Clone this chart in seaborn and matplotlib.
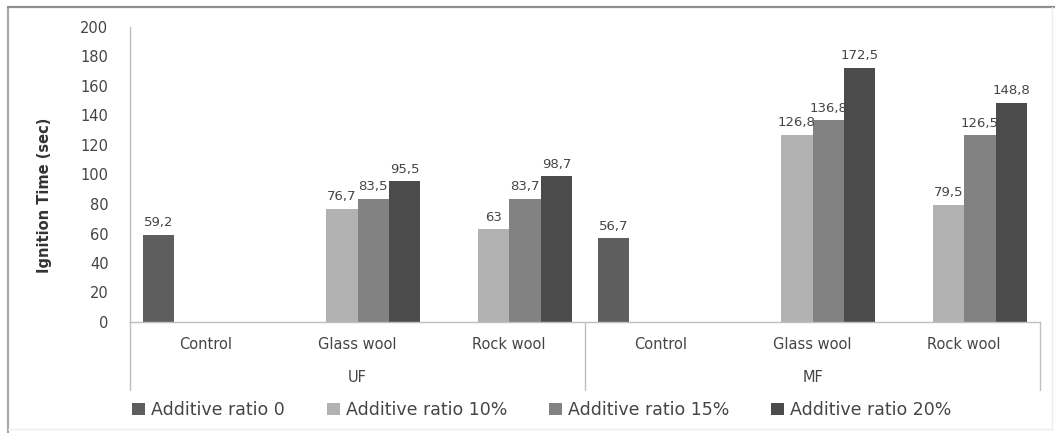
import matplotlib
matplotlib.use("Agg")
import matplotlib.pyplot as plt
import pandas as pd
import seaborn as sns
from matplotlib.lines import Line2D
from matplotlib.transforms import blended_transform_factory

# Ignition time (sec) by resin, filler and additive ratio
resins = ["UF", "MF"]
fillers = ["Control", "Glass wool", "Rock wool"]
ratios = ["Additive ratio 0", "Additive ratio 10%",
          "Additive ratio 15%", "Additive ratio 20%"]

uf_control = [59.2]
uf_glass = [76.7, 83.5, 95.5]
uf_rock = [63.0, 83.7, 98.7]
mf_control = [56.7]
mf_glass = [126.8, 136.8, 172.5]
mf_rock = [79.5, 126.5, 148.8]

bar_colors = ["#5e5e5e", "#b2b2b2", "#828282", "#4b4b4b"]

series = {
    ("UF", "Control"): uf_control,
    ("UF", "Glass wool"): uf_glass,
    ("UF", "Rock wool"): uf_rock,
    ("MF", "Control"): mf_control,
    ("MF", "Glass wool"): mf_glass,
    ("MF", "Rock wool"): mf_rock,
}

rows = []
order = []
for resin in resins:
    for filler in fillers:
        key = f"{resin} {filler}"
        order.append(key)
        vals = series[(resin, filler)]
        levels = ratios[:1] if filler == "Control" else ratios[1:]
        for lvl, v in zip(levels, vals):
            rows.append({"group": key, "ratio": lvl, "time": v})
df = pd.DataFrame(rows)

sns.set_style("white")
plt.rcParams["font.family"] = ["DejaVu Sans"]
text_color = "#454545"
axis_color = "#bfbfbf"

W, H = 1055, 433
fig = plt.figure(figsize=(W / 100, H / 100), dpi=100)
ax = fig.add_axes([130 / W, 111 / H, 910 / W, 295 / H])

sns.barplot(data=df, x="group", y="time", hue="ratio", order=order,
            hue_order=ratios, palette=bar_colors, saturation=1,
            width=0.83, gap=0, errorbar=None, linewidth=0, ax=ax)

ax.set_ylim(0, 200)
ax.set_xlim(-0.5, 5.5)
ax.set_yticks(range(0, 201, 20))
ax.set_xticks(range(6))
ax.set_xticklabels(fillers * 2)
ax.set_xlabel("")
ax.set_ylabel("")
ax.tick_params(axis="y", length=0, pad=15.5, labelsize=10.5, colors=text_color)
ax.tick_params(axis="x", length=0, pad=11, labelsize=10.5, colors=text_color)

for side in ["top", "right"]:
    ax.spines[side].set_visible(False)
for side in ["left", "bottom"]:
    ax.spines[side].set_color(axis_color)
    ax.spines[side].set_linewidth(1)

# value labels with decimal comma
for cont in ax.containers:
    labels = [f"{v:g}".replace(".", ",") for v in cont.datavalues]
    ax.bar_label(cont, labels=labels, padding=4, fontsize=9.5, color=text_color)

# second-level category axis: group separators and resin names
trans = blended_transform_factory(ax.transData, ax.transAxes)
for xs in [-0.5, 2.5, 5.5]:
    ax.plot([xs, xs], [0, -68 / 295], transform=trans, clip_on=False,
            color=axis_color, lw=1)
for i, resin in enumerate(resins):
    ax.text(1 + 3 * i, -56 / 295, resin, transform=trans, ha="center",
            va="center", fontsize=10.5, color=text_color)

fig.text(45 / W, 1 - 195 / H, "Ignition Time (sec)", rotation=90,
         ha="center", va="center", fontsize=10.5, fontweight="bold",
         family=["DejaVu Sans Condensed", "DejaVu Sans"], color="#333333")

sns.move_legend(ax, "center", bbox_to_anchor=(542 / W, 1 - 410 / H),
                bbox_transform=fig.transFigure, ncol=4, frameon=False,
                title=None, fontsize=12.5, handlelength=0.75, handleheight=0.65,
                handletextpad=0.35, columnspacing=2.4, labelcolor=text_color)

# outer chart frame
frame = [
    ([8 / W, 8 / W], [0, 1 - 7 / H], "#a8a8a8", 1.6),
    ([8 / W, 1], [1 - 7 / H, 1 - 7 / H], "#8e8e8e", 1.6),
    ([1052 / W, 1052 / W], [3 / H, 1 - 7 / H], "#ededed", 1),
    ([8 / W, 1052 / W], [4 / H, 4 / H], "#ededed", 1),
]
for xs, ys, c, lw in frame:
    fig.add_artist(Line2D(xs, ys, transform=fig.transFigure, color=c, lw=lw))

fig.savefig("out.png", dpi=100)
